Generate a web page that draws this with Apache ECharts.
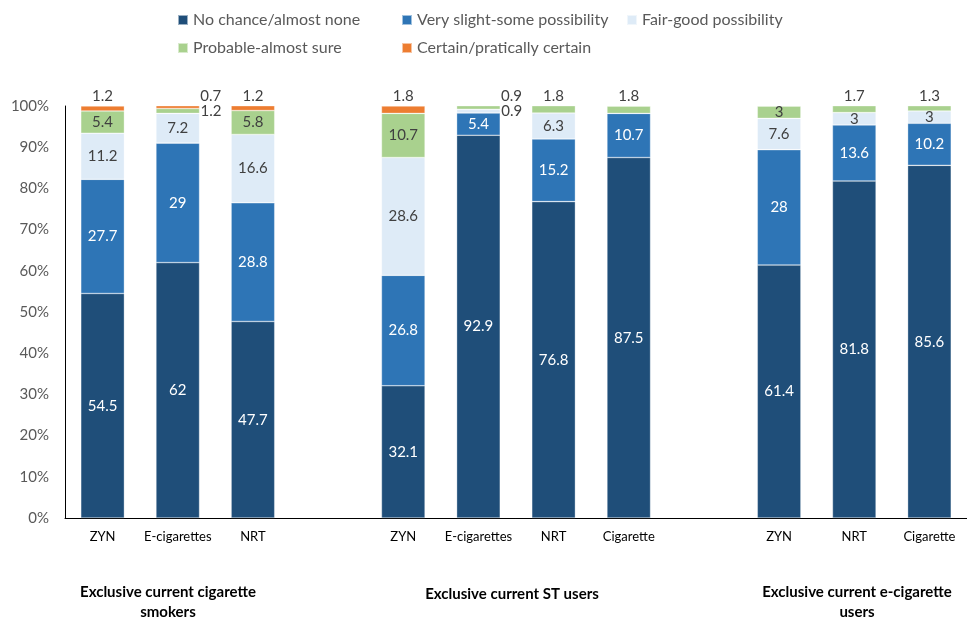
<!DOCTYPE html>
<html>
<head>
<meta charset="utf-8">
<script src="https://cdn.jsdelivr.net/npm/echarts@6/dist/echarts.min.js"></script>
<style>
  html, body { margin: 0; padding: 0; background: #fff; }
  #chart { width: 967px; height: 617px; }
</style>
</head>
<body>
<div id="chart"></div>
<script>
// categories (empty strings are the gaps between groups)
const categories = ['ZYN', 'E-cigarettes', 'NRT', '', 'ZYN', 'E-cigarettes', 'NRT', 'Cigarette', '', 'ZYN', 'NRT', 'Cigarette']

const seriesNames = ['No chance/almost none', 'Very slight-some possibility', 'Fair-good possibility', 'Probable-almost sure', 'Certain/pratically certain']

const noChance = [54.5, 62, 47.7, null, 32.1, 92.9, 76.8, 87.5, null, 61.4, 81.8, 85.6]
const slightSome = [27.7, 29, 28.8, null, 26.8, 5.4, 15.2, 10.7, null, 28, 13.6, 10.2]
const fairGood = [11.2, 7.2, 16.6, null, 28.6, 0.9, 6.3, 0, null, 7.6, 3, 3]
const probable = [5.4, 1.2, 5.8, null, 10.7, 0.9, 1.8, 1.8, null, 3, 1.7, 1.3]
const certain = [1.2, 0.7, 1.2, null, 1.8, 0, 0, 0, null, 0, 0, 0]

const groupTitles = ['Exclusive current cigarette\nsmokers', 'Exclusive current ST users', 'Exclusive current e-cigarette\nusers']

const allSeries = [noChance, slightSome, fairGood, probable, certain]
const colors = ['#1F4E79', '#2E75B6', '#DEEBF7', '#A9D18E', '#ED7D31']
const insideText = ['#fff', '#fff', '#404040', '#404040', '#404040']
const FONT = 'Lato, "Open Sans", sans-serif'

function makeData (s) {
  return allSeries[s].map((v, i) => {
    if (v === null) return null
    const item = { value: v }
    if (v === 0) {
      item.label = { show: false }
    } else if (v < 2.5) {
      let hasAbove = false
      for (let k = s + 1; k < allSeries.length; k++) {
        if (allSeries[k][i]) hasAbove = true
      }
      // nearest non-zero segment below
      let below = 100
      for (let k = s - 1; k >= 0; k--) {
        if (allSeries[k][i]) { below = allSeries[k][i]; break }
      }
      if (hasAbove) {
        item.label = { position: 'right', distance: 1, color: '#404040' }
      } else if (below < 2.5 && allSeries[s - 2][i] >= 2.5) {
        // two small segments on top of each other: push the top label aside
        item.label = { position: 'top', distance: 2, offset: [33, 0], color: '#404040' }
      } else {
        item.label = { position: 'top', distance: 2, color: '#404040' }
      }
    }
    return item
  })
}

const series = seriesNames.map((name, s) => ({
  name: name,
  type: 'bar',
  stack: 'total',
  barWidth: '58%',
  itemStyle: { color: colors[s], borderColor: 'rgba(255,255,255,0.55)', borderWidth: 0.6 },
  label: {
    show: true,
    position: 'inside',
    color: insideText[s],
    fontFamily: FONT,
    fontSize: 15
  },
  data: makeData(s)
}))

const legendPos = [[177, 12], [401, 12], [626, 12], [177, 40], [401, 40]]
const legends = seriesNames.map((name, s) => ({
  data: [name],
  left: legendPos[s][0],
  top: legendPos[s][1],
  padding: 0,
  icon: 'rect',
  itemWidth: 10,
  itemHeight: 10,
  textStyle: { color: '#595959', fontSize: 16, fontFamily: FONT }
}))

const titleFont = 'bold 15px ' + FONT

const chart = echarts.init(document.getElementById('chart'))
chart.setOption({
  animation: false,
  textStyle: { fontFamily: FONT },
  legend: legends,
  grid: { left: 65, top: 106, width: 910, height: 412 },
  xAxis: {
    type: 'category',
    data: categories,
    axisLine: { lineStyle: { color: '#000', width: 1 } },
    axisTick: { show: false },
    axisLabel: { interval: 0, color: '#000', fontSize: 13, margin: 12, fontFamily: FONT }
  },
  yAxis: {
    type: 'value',
    min: 0,
    max: 100,
    interval: 10,
    splitLine: { show: false },
    axisLine: { show: true, lineStyle: { color: '#000', width: 1 } },
    axisTick: { show: false },
    axisLabel: { formatter: '{value}%', color: '#595959', fontSize: 15, margin: 16, fontFamily: FONT }
  },
  graphic: [
    { type: 'text', x: 168, y: 582, style: { text: groupTitles[0], textAlign: 'center', font: titleFont, fill: '#000', lineHeight: 20 } },
    { type: 'text', x: 512, y: 584, style: { text: groupTitles[1], textAlign: 'center', font: titleFont, fill: '#000', lineHeight: 20 } },
    { type: 'text', x: 857, y: 582, style: { text: groupTitles[2], textAlign: 'center', font: titleFont, fill: '#000', lineHeight: 20 } }
  ],
  series: series
})
</script>
</body>
</html>
